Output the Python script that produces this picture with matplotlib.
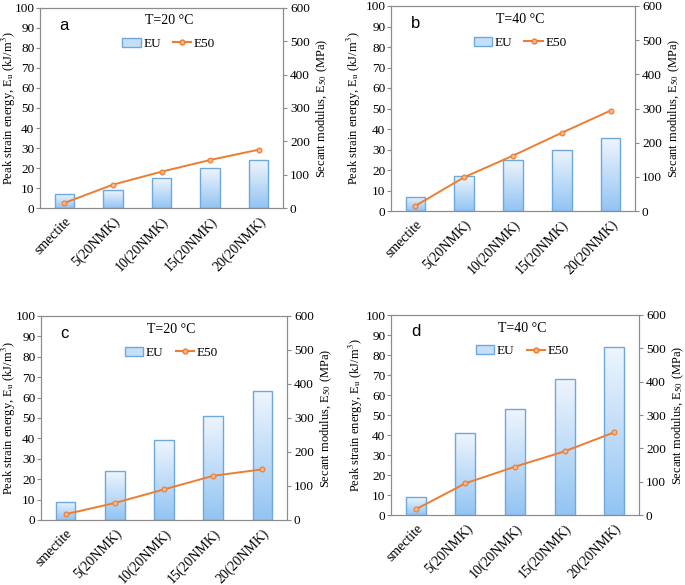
import numpy as np
import matplotlib
matplotlib.use('Agg')
import matplotlib.pyplot as plt
from matplotlib.colors import LinearSegmentedColormap
from matplotlib.patches import Patch
from matplotlib.lines import Line2D

plt.rcParams['font.family'] = ['Liberation Serif', 'DejaVu Serif']
plt.rcParams['mathtext.fontset'] = 'stix'

categories = ['smectite', '5(20NMK)', '10(20NMK)', '15(20NMK)', '20(20NMK)']

eu_a = [7, 9, 15, 20, 24]
e50_a = [15, 70, 109, 144, 175]
eu_b = [7, 17, 25, 30, 35.5]
e50_b = [15, 99, 162, 229, 294]
eu_c = [9, 24, 39, 51, 63]
e50_c = [17, 50, 90, 130, 149]
eu_d = [9, 41, 53, 68, 84]
e50_d = [17, 95, 145, 191, 248]

# letter, title, bars, line, axes box in pixels, x pixel of left label's right edge
panels = [
    ('a', 'T=20 °C', eu_a, e50_a, [40, 8, 283, 208], 18),
    ('b', 'T=40 °C', eu_b, e50_b, [391, 6, 635, 211], 363),
    ('c', 'T=20 °C', eu_c, e50_c, [41, 316, 287, 520], 18),
    ('d', 'T=40 °C', eu_d, e50_d, [391, 315, 639, 515], 365),
]

W, H = 685, 585
fig = plt.figure(figsize=(W / 100, H / 100), dpi=100)

grad = LinearSegmentedColormap.from_list('g', ['#93c4f3', '#eef5fd'])
grey = '#8c8c8c'
orange = '#ed7d31'
bar_edge = '#6fa8dc'

for letter, title, eu, e50, (x0, y0, x1, y1), lab_x in panels:
    ax = fig.add_axes([x0 / W, 1 - y1 / H, (x1 - x0) / W, (y1 - y0) / H])
    x = np.arange(len(categories))
    bars = ax.bar(x, eu, width=0.4, facecolor='none', edgecolor=bar_edge, linewidth=1.0, zorder=3)
    for b in bars:
        bx, by = b.get_x(), b.get_y()
        bw, bh = b.get_width(), b.get_height()
        im = ax.imshow(np.linspace(0, 1, 100).reshape(-1, 1), cmap=grad, origin='lower',
                       extent=[bx, bx + bw, by, by + bh], aspect='auto', zorder=2)
        im.set_clip_path(b)
    ax.set_xlim(-0.5, len(categories) - 0.5)
    ax.set_ylim(0, 100)
    ax.set_yticks(range(0, 101, 10))
    ax.set_xticks(x)
    ax.set_xticklabels(categories, rotation=46, ha='right', rotation_mode='anchor', fontsize=10)
    ax.tick_params(axis='y', labelsize=9.5, length=3, color=grey, pad=1)
    ax.tick_params(axis='x', length=0, pad=5)
    ax.set_ylabel('Peak strain energy, E$_\\mathrm{u}$ (kJ/m$^3$)', fontsize=9)
    ax.yaxis.set_label_coords((lab_x - x0) / (x1 - x0), 0.5)
    for s in ax.spines.values():
        s.set_color(grey)
        s.set_linewidth(0.8)

    ax2 = ax.twinx()
    ax2.plot(x, e50, color=orange, linewidth=1.4, marker='o', markersize=3.5,
             markerfacecolor='#f6b58a', markeredgecolor=orange, markeredgewidth=0.8, zorder=4)
    ax2.set_ylim(0, 600)
    ax2.set_yticks(range(0, 601, 100))
    ax2.tick_params(axis='y', labelsize=9.5, length=3, color=grey, pad=2)
    ax2.set_ylabel('Secant modulus, E$_{50}$ (MPa)', fontsize=9, labelpad=3)
    for s in ax2.spines.values():
        s.set_color(grey)
        s.set_linewidth(0.8)

    ax.text(0.08, 0.915, letter, transform=ax.transAxes, fontsize=12,
            family=['Liberation Sans', 'DejaVu Sans'], va='center', ha='left')
    ax.text(0.53, 0.935, title, transform=ax.transAxes, fontsize=10, va='center', ha='center')

    handles = [Patch(facecolor='#c6dff8', edgecolor=bar_edge, label='EU'),
               Line2D([0], [0], color=orange, marker='o', markersize=3.5,
                      markerfacecolor='#f6b58a', markeredgecolor=orange, label='E50')]
    ax2.legend(handles=handles, loc='center', bbox_to_anchor=(0.53, 0.82), ncol=2,
               frameon=False, fontsize=9.5, handlelength=1.4, handletextpad=0.2,
               columnspacing=0.9)

fig.savefig('out.png', dpi=100)
